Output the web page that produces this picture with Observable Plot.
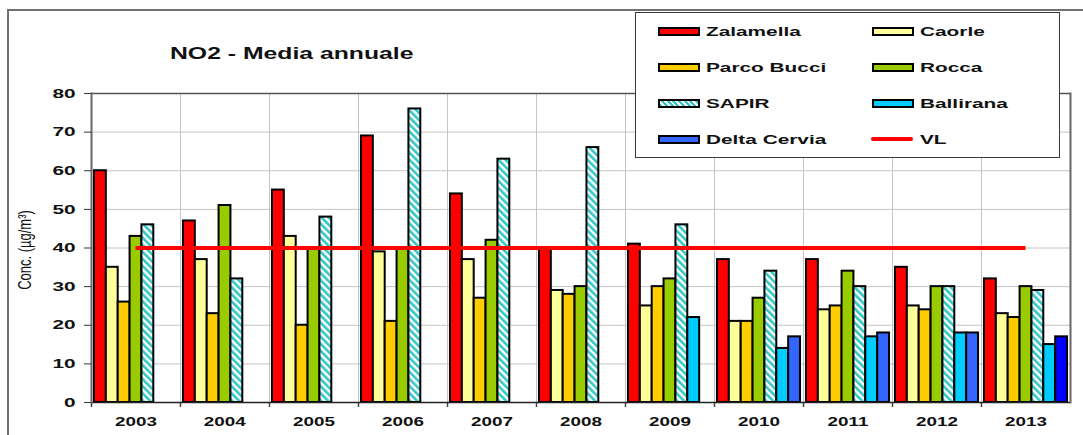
<!DOCTYPE html>
<html>
<head>
<meta charset="utf-8">
<script src="https://cdn.jsdelivr.net/npm/d3@7"></script>
<script src="https://cdn.jsdelivr.net/npm/@observablehq/plot@0.6"></script>
<style>
  html, body { margin: 0; padding: 0; background: #fff; }
  #wrap { position: relative; width: 1083px; height: 435px; overflow: hidden; font-family: "Liberation Sans", Arial, sans-serif; color: #111; }
  #wrap svg { position: absolute; left: 0; top: 0; }
  #border { position: absolute; left: 7px; top: 9px; width: 1100px; height: 460px; border-left: 2px solid #707070; border-top: 2px solid #707070; }
  #title { position: absolute; left: 170px; top: 45px; font-size: 16.5px; font-weight: bold; line-height: 16.5px; white-space: nowrap; transform: scaleX(1.5); transform-origin: left center; }
  #ylabel { position: absolute; left: 25px; top: 250px; font-size: 13px; line-height: 13px; white-space: nowrap; transform: translate(-50%, -50%) rotate(-90deg) scaleY(1.35); }
  #legend { position: absolute; left: 635px; top: 12px; width: 423px; height: 144px; background: #fff; border: 1.5px solid #3a3a3a; }
  .sw { position: absolute; width: 38px; height: 5px; border: 2px solid #000; }
  .lt { position: absolute; font-size: 13px; font-weight: bold; line-height: 13px; white-space: nowrap; transform: scaleX(1.6); transform-origin: left center; }
  .vl { position: absolute; width: 42px; height: 4px; background: #ff0000; border-radius: 2px; }
</style>
</head>
<body>
<div id="wrap">
  <div id="border"></div>
  <div id="chart"></div>
  <div id="title">NO2 - Media annuale</div>
  <div id="ylabel">Conc. (µg/m³)</div>
  <div id="legend"></div>
</div>
<script>
// ---- data ----
const years = ["2003","2004","2005","2006","2007","2008","2009","2010","2011","2012","2013"];
const series = ["Zalamella","Caorle","Parco Bucci","Rocca","SAPIR","Ballirana","Delta Cervia"];
const zalamella   = [60, 47, 55, 69, 54, 40, 41, 37, 37, 35, 32];
const caorle      = [35, 37, 43, 39, 37, 29, 25, 21, 24, 25, 23];
const parcoBucci  = [26, 23, 20, 21, 27, 28, 30, 21, 25, 24, 22];
const rocca       = [43, 51, 40, 40, 42, 30, 32, 27, 34, 30, 30];
const sapir       = [46, 32, 48, 76, 63, 66, 46, 34, 30, 30, 29];
const ballirana   = [null, null, null, null, null, null, 22, 14, 17, 18, 15];
const deltaCervia = [null, null, null, null, null, null, null, 17, 18, 18, 17];
const vlValue = 40;
const vlLabel = "VL";
const yTicks = [0, 10, 20, 30, 40, 50, 60, 70, 80];

// ---- styles ----
const seriesColors = ["#ff0000", "#ffff99", "#ffcc00", "#99cc00", "url(#hatch)", "#00ccff", "#3366ff"];
const delta2013Color = "#0000ff";
const groupPad = 0.25; // gap at each side of a year group, in bar widths

const valuesBySeries = [zalamella, caorle, parcoBucci, rocca, sapir, ballirana, deltaCervia];
const colorOf = new Map(series.map((s, i) => [s, seriesColors[i]]));
const slotOf = new Map(series.map((s, i) => [s, i]));
const records = years.flatMap((yr, i) => series.map((s, j) => ({year: yr, series: s, value: valuesBySeries[j][i]})))
  .filter(d => d.value != null);
const fillOf = d => (d.series === "Delta Cervia" && d.year === "2013") ? delta2013Color : colorOf.get(d.series);
const xMin = -groupPad, xMax = series.length + groupPad, xMid = series.length / 2;
const firstYear = years[0], lastYear = years[years.length - 1];
// the limit line runs from the centre of the first year group to the centre of the last
const vlSegments = years.map(yr => ({
  year: yr,
  v: vlValue,
  from: yr === firstYear ? xMid : xMin,
  to: yr === lastYear ? xMid : xMax
}));

const svg = Plot.plot({
  width: 1083,
  height: 435,
  marginTop: 93,
  marginBottom: 33,
  marginLeft: 89,
  marginRight: 12,
  style: {fontFamily: "'Liberation Sans', Arial, sans-serif", fontSize: "13px", fontWeight: "bold", color: "#111", background: "transparent", overflow: "visible"},
  fx: {domain: years, padding: 0, label: null, axis: "bottom", tickSize: 0, tickPadding: 14},
  x: {domain: [xMin, xMax], axis: null},
  y: {domain: [0, 80], label: null, axis: null},
  color: {type: "identity"},
  marks: [
    Plot.gridY(yTicks, {stroke: "#c4c4c4", strokeOpacity: 1}),
    Plot.frame({stroke: "#c4c4c4"}),
    Plot.ruleX([xMin], {y1: 0, y2: 0, insetBottom: -5, stroke: "#444", strokeWidth: 1.5}),
    Plot.ruleX([xMax], {fx: lastYear, y1: 0, y2: 0, insetBottom: -5, stroke: "#444", strokeWidth: 1.5}),
    Plot.rectY(records, {
      fx: "year",
      x1: d => slotOf.get(d.series),
      x2: d => slotOf.get(d.series) + 1,
      y: "value",
      fill: fillOf, stroke: "#000", strokeWidth: 2
    }),
    Plot.ruleY([80], {stroke: "#555", strokeWidth: 1.5}),
    Plot.ruleY([0], {stroke: "#222", strokeWidth: 1.5}),
    Plot.frame({anchor: "left", fx: firstYear, stroke: "#666", strokeWidth: 2}),
    Plot.frame({anchor: "right", fx: lastYear, stroke: "#666", strokeWidth: 2}),
    Plot.axisY(yTicks, {tickSize: 7, tickPadding: 9, stroke: "#333"}),
    Plot.ruleY(vlSegments, {fx: "year", y: "v", x1: "from", x2: "to", stroke: "#ff0000", strokeWidth: 4})
  ]
});

// hatch pattern for SAPIR
const defs = d3.select(svg).insert("defs", ":first-child");
const pat = defs.append("pattern").attr("id", "hatch").attr("patternUnits", "userSpaceOnUse")
  .attr("width", 5).attr("height", 5).attr("patternTransform", "rotate(-45)");
pat.append("rect").attr("width", 5).attr("height", 5).attr("fill", "#ffffff");
pat.append("rect").attr("width", 2.6).attr("height", 5).attr("fill", "#33c6c6");

document.getElementById("chart").appendChild(svg);

// horizontal stretch of tick labels (the reference text is widened), around each label's anchor
function stretch(sel, s) {
  svg.querySelectorAll(sel).forEach(t => {
    const bb = t.getBBox();
    const anchor = getComputedStyle(t).textAnchor;
    const ax = anchor === "end" ? bb.x + bb.width : anchor === "middle" ? bb.x + bb.width / 2 : bb.x;
    const tr = t.getAttribute("transform") || "";
    t.setAttribute("transform", `${tr} translate(${ax},0) scale(${s},1) translate(${-ax},0)`);
  });
}
stretch('g[aria-label="y-axis tick label"] text', 1.6);
stretch('g[aria-label="fx-axis tick label"] text', 1.45);

// ---- legend ----
const legend = document.getElementById("legend");
const legendItems = [...series.map((s, i) => ({label: s, color: seriesColors[i]})), {label: vlLabel, line: true}];
legendItems.forEach((it, i) => {
  const col = i % 2, row = Math.floor(i / 2);
  const cy = 18 + row * 36;
  const sx = col === 0 ? 22 : 236;
  if (it.line) {
    const l = document.createElement("div");
    l.className = "vl";
    l.style.left = (sx - 1) + "px"; l.style.top = (cy - 2) + "px";
    legend.appendChild(l);
  } else {
    const sw = document.createElement("div");
    sw.className = "sw";
    sw.style.left = sx + "px"; sw.style.top = (cy - 4) + "px";
    if (it.color.startsWith("url")) {
      sw.style.background = "repeating-linear-gradient(45deg, #33c6c6 0 2px, #ffffff 2px 4px)";
    } else {
      sw.style.background = it.color;
    }
    legend.appendChild(sw);
  }
  const t = document.createElement("div");
  t.className = "lt";
  t.textContent = it.label;
  t.style.left = (sx + 48) + "px";
  t.style.top = (cy - 6.5) + "px";
  legend.appendChild(t);
});
</script>
</body>
</html>
